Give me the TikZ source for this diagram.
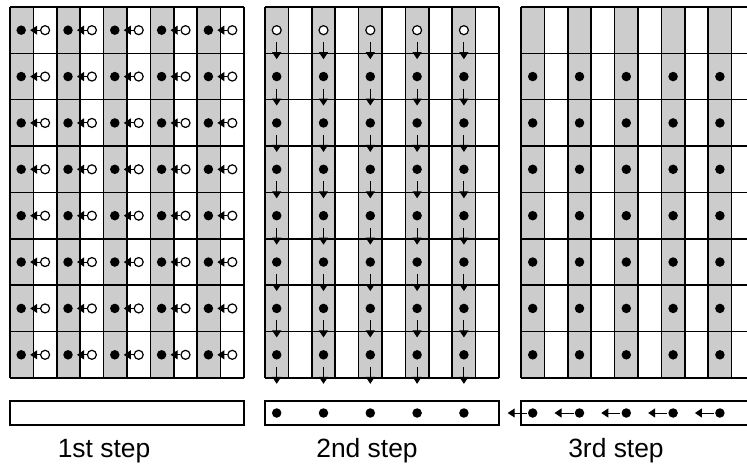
\documentclass[tikz,border=0pt]{standalone}
\usepackage{fontspec}
\setmainfont{Liberation Sans}
\usetikzlibrary{arrows.meta}
\begin{document}
\begin{tikzpicture}[x=1bp,y=-1bp,
  gridline/.style={line width=1.5bp},
  graycol/.style={fill=black!20},
  fdot/.style={circle,fill=black,inner sep=0pt,minimum size=9.5bp},
  odot/.style={circle,draw=black,fill=white,line width=1.2bp,inner sep=0pt,minimum size=9bp},
  arr/.style={line width=1bp,-{Triangle[length=7bp,width=9bp]}},
  steplabel/.style={font=\fontsize{26.5}{30}\selectfont,anchor=base,inner sep=0pt}]
\useasboundingbox (0,0) rectangle (747,468);
\clip (0,0) rectangle (747,468);
\def\w{23.4}
\def\h{46.375}
% grids
\foreach \gx in {10,265,521} {
  \foreach \k in {0,...,4}
    \fill[graycol] ({\gx+2*\k*\w},7) rectangle ++(\w,{8*\h});
  \foreach \c in {0,...,10}
    \draw[gridline] ({\gx+\c*\w},7) -- ++(0,{8*\h});
  \foreach \r in {0,...,8}
    \draw[gridline] (\gx,{7+\r*\h}) -- ++({10*\w},0);
  \draw[gridline] (\gx,401) rectangle ++({10*\w},24);
}
% step 1
\foreach \r in {0,...,7} \foreach \k in {0,...,4} {
  \node[fdot] (a-\r-\k) at ({10+(2*\k+0.5)*\w-0.5},{7+(\r+0.5)*\h}) {};
  \node[odot] (b-\r-\k) at ({10+(2*\k+1.5)*\w},{7+(\r+0.5)*\h}) {};
  \coordinate (t-\r-\k) at ([xshift=9bp]a-\r-\k.center);
  \draw[arr] (b-\r-\k) -- (t-\r-\k);
}
% step 2
\foreach \k in {0,...,4} {
  \node[odot] (c-0-\k) at ({265+(2*\k+0.5)*\w},{7+0.5*\h}) {};
  \foreach \r in {1,...,7}
    \node[fdot] (c-\r-\k) at ({265+(2*\k+0.5)*\w},{7+(\r+0.5)*\h}) {};
  \foreach \r in {0,...,7} {
    \coordinate (d-\r-\k) at ([yshift=-29bp]c-\r-\k.center);
    \draw[arr,shorten <=7bp] (c-\r-\k) -- (d-\r-\k);
  }
  \node[fdot] (e-\k) at ({265+(2*\k+0.5)*\w},413) {};
}
% step 3
\foreach \k in {0,...,4} {
  \foreach \r in {1,...,7}
    \node[fdot] (f-\r-\k) at ({521+(2*\k+0.5)*\w},{7+(\r+0.5)*\h}) {};
  \node[fdot] (g-\k) at ({521+(2*\k+0.5)*\w},413) {};
  \coordinate (h-\k) at ([xshift=-25bp]g-\k.center);
  \draw[arr,shorten <=1bp] (g-\k) -- (h-\k);
}
% labels
\node[steplabel] (l1) at (104,457) {1st step};
\node[steplabel] (l2) at (367,457) {2nd step};
\node[steplabel] (l3) at (616,457) {3rd step};
\end{tikzpicture}
\end{document}
